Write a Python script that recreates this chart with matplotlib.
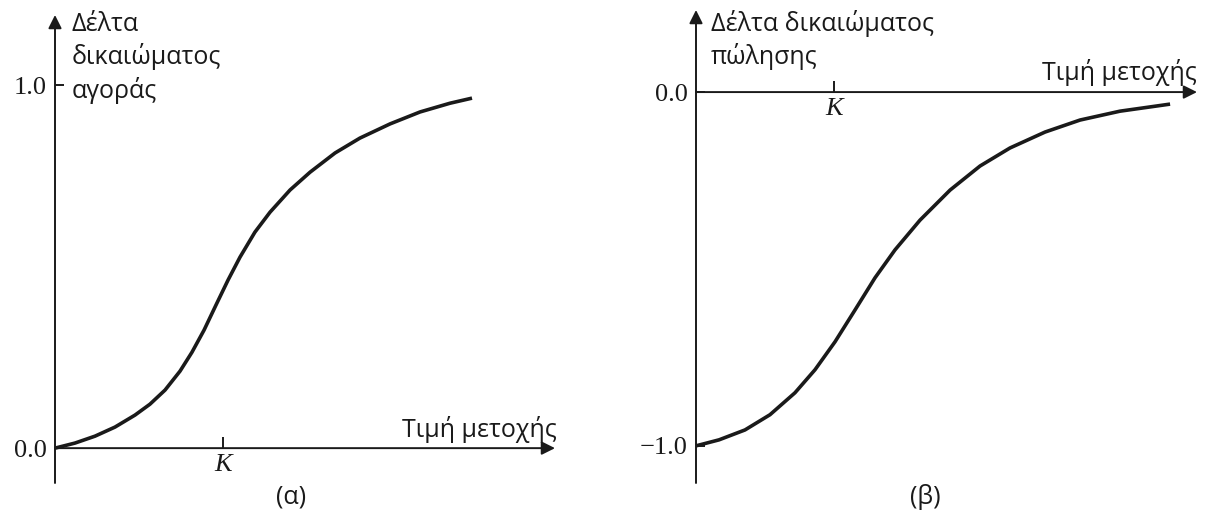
import matplotlib
matplotlib.use("Agg")
import matplotlib.pyplot as plt

# call delta vs stock price (x in units of strike K)
call_x = [0.0, 0.119, 0.238, 0.357, 0.476, 0.565, 0.655, 0.744, 0.815, 0.887,
          0.958, 1.030, 1.101, 1.190, 1.280, 1.399, 1.518, 1.667, 1.815, 1.994,
          2.173, 2.351, 2.482]
call_delta = [0.0, 0.014, 0.033, 0.058, 0.091, 0.121, 0.160, 0.212, 0.264, 0.325,
              0.394, 0.463, 0.526, 0.595, 0.650, 0.711, 0.760, 0.813, 0.854, 0.893,
              0.926, 0.950, 0.964]

# put delta vs stock price
put_x = [0.0, 0.167, 0.355, 0.536, 0.717, 0.862, 1.007, 1.152, 1.297, 1.442,
         1.623, 1.841, 2.058, 2.275, 2.529, 2.783, 3.072, 3.435]
put_delta = [-1.0, -0.983, -0.955, -0.912, -0.850, -0.785, -0.706, -0.616, -0.525,
             -0.446, -0.362, -0.277, -0.209, -0.158, -0.113, -0.079, -0.054, -0.034]

strike = 1.0
call_yticks = [0.0, 1.0]
call_yticklabels = ["0.0", "1.0"]
put_yticks = [0.0, -1.0]
put_yticklabels = ["0.0", "\u22121.0"]

W, H = 1205, 531
SANS = "Open Sans"
SERIF = "Liberation Serif"
INK = "#1a1a1a"
FS = 18

fig = plt.figure(figsize=(W / 100, H / 100), dpi=100)


def px_axes(x0, y0, x1, y1):
    return fig.add_axes([x0 / W, 1 - y1 / H, (x1 - x0) / W, (y1 - y0) / H])


def setup(ax, xmax, ylo, yhi, yticks, yticklabels):
    ax.set_xlim(0, xmax)
    ax.set_ylim(ylo, yhi)
    for s in ax.spines.values():
        s.set_visible(False)
    ax.spines["left"].set_position(("data", 0))
    ax.spines["bottom"].set_position(("data", 0))
    ax.set_xticks([strike])
    ax.set_xticklabels(["K"], fontfamily=SERIF, fontstyle="italic", fontsize=19, color=INK)
    ax.set_yticks(yticks)
    ax.set_yticklabels(yticklabels, fontfamily=SERIF, fontsize=19, color=INK)
    ax.tick_params(axis="x", direction="in", length=8, width=1.4, pad=4, color=INK,
                   top=False)
    ax.tick_params(axis="y", direction="in", length=6.5, width=1.4, pad=6, color=INK,
                   right=False)
    arrow = dict(arrowstyle="-|>", color=INK, lw=1.4, mutation_scale=20,
                 shrinkA=0, shrinkB=0)
    ax.annotate("", xy=(0, yhi), xytext=(0, ylo), arrowprops=arrow, annotation_clip=False)
    ax.annotate("", xy=(xmax, 0), xytext=(0, 0), arrowprops=arrow, annotation_clip=False)


# (α) call
ax1 = px_axes(55, 15, 555, 483)
setup(ax1, 2.976, -0.096, 1.193, call_yticks, call_yticklabels)
ax1.plot(call_x, call_delta, color=INK, lw=2.6, solid_capstyle="butt")
fig.text(72 / W, 1 - 12 / H, "Δέλτα\nδικαιώματος\nαγοράς", family=SANS, fontsize=FS,
         color=INK, va="top", ha="left", linespacing=1.3)
fig.text(557 / W, 1 - 437 / H, "Τιμή μετοχής", family=SANS, fontsize=FS, color=INK,
         va="baseline", ha="right")
fig.text(291 / W, 1 - 497 / H, "(α)", family=SANS, fontsize=FS, color=INK,
         va="center", ha="center")

# (β) put
ax2 = px_axes(696, 10, 1197, 483)
setup(ax2, 3.63, -1.105, 0.232, put_yticks, put_yticklabels)
ax2.plot(put_x, put_delta, color=INK, lw=2.6, solid_capstyle="butt")
fig.text(711 / W, 1 - 10 / H, "Δέλτα δικαιώματος\nπώλησης", family=SANS, fontsize=FS,
         color=INK, va="top", ha="left", linespacing=1.3)
fig.text(1197 / W, 1 - 80 / H, "Τιμή μετοχής", family=SANS, fontsize=FS, color=INK,
         va="baseline", ha="right")
fig.text(925 / W, 1 - 497 / H, "(β)", family=SANS, fontsize=FS, color=INK,
         va="center", ha="center")

fig.savefig("out.png", dpi=100)
